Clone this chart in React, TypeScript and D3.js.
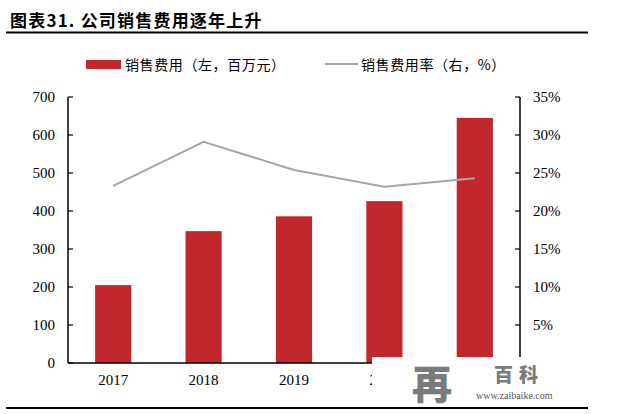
import React from "react";
import * as d3 from "d3";

const years = ["2017", "2018", "2019", "2020", "2021"];
const salesExpense = [205, 347, 386, 426, 645];
const expenseRatio = [0.233, 0.291, 0.254, 0.232, 0.243];
const leftTicks = [0, 100, 200, 300, 400, 500, 600, 700];
const rightTicks = [0, 0.05, 0.1, 0.15, 0.2, 0.25, 0.3, 0.35];
const title = "图表31. 公司销售费用逐年上升";
const legendBar = "销售费用（左，百万元）";
const legendLine = "销售费用率（右，%）";

const RED = "#C1272D";
const GREY = "#A6A6A6";
const SERIF = "'Liberation Serif', 'Times New Roman', serif";
const CJK = "'Noto Sans CJK SC', sans-serif";

export default function App() {
  const left = 68, right = 520, top = 97, bottom = 363;
  const x = d3.scaleBand<string>().domain(years).range([left, right]).paddingInner(0.6).paddingOuter(0.3);
  const yL = d3.scaleLinear().domain([0, 700]).range([bottom, top]);
  const yR = d3.scaleLinear().domain([0, 0.35]).range([bottom, top]);
  const line = d3
    .line<number>()
    .x((_, i) => (x(years[i]) as number) + x.bandwidth() / 2)
    .y((d) => yR(d));
  const pct = d3.format(".0%");

  return (
    <svg width={640} height={414} style={{ position: "absolute", left: 0, top: 0, background: "#fff" }}>
      <rect x={0} y={0} width={640} height={414} fill="#fff" />
      <text x={10} y={27} fontFamily={CJK} fontWeight={700} fontSize={17} letterSpacing={1.2} fill="#000">
        {title}
      </text>
      <line x1={6} x2={588} y1={32.5} y2={32.5} stroke="#000" strokeWidth={2} />

      {/* legend */}
      <rect x={86} y={60} width={35} height={9} fill={RED} />
      <text x={125} y={70} fontFamily={CJK} fontSize={14} letterSpacing={0.6} fill="#000">
        {legendBar}
      </text>
      <line x1={325} x2={358} y1={64} y2={64} stroke={GREY} strokeWidth={2} />
      <text x={361} y={70} fontFamily={CJK} fontSize={14} letterSpacing={0.6} fill="#000">
        {legendLine}
      </text>

      {/* bars */}
      {salesExpense.map((v, i) => (
        <rect key={years[i]} x={x(years[i])} y={yL(v)} width={x.bandwidth()} height={bottom - yL(v)} fill={RED} />
      ))}

      {/* line */}
      <path d={line(expenseRatio) || ""} fill="none" stroke={GREY} strokeWidth={2} />

      {/* left axis */}
      <line x1={left} x2={left} y1={top} y2={bottom} stroke="#000" strokeWidth={1.5} />
      {leftTicks.map((t) => (
        <g key={t}>
          <line x1={left} x2={left + 5} y1={yL(t)} y2={yL(t)} stroke="#000" strokeWidth={1.2} />
          <text x={55} y={yL(t)} dy="0.35em" textAnchor="end" fontFamily={SERIF} fontSize={15} fill="#000">
            {t}
          </text>
        </g>
      ))}

      {/* right axis */}
      <line x1={right} x2={right} y1={top} y2={bottom} stroke="#000" strokeWidth={1.5} />
      {rightTicks.map((t) => (
        <g key={t}>
          <line x1={right - 5} x2={right} y1={yR(t)} y2={yR(t)} stroke="#000" strokeWidth={1.2} />
          {t > 0 && (
            <text x={533} y={yR(t)} dy="0.35em" textAnchor="start" fontFamily={SERIF} fontSize={15} fill="#000">
              {pct(t)}
            </text>
          )}
        </g>
      ))}

      {/* x axis */}
      <line x1={left} x2={right} y1={bottom} y2={bottom} stroke="#000" strokeWidth={1.5} />
      {years.map((yv) => (
        <text key={yv} x={(x(yv) as number) + x.bandwidth() / 2} y={385} textAnchor="middle" fontFamily={SERIF} fontSize={15} fill="#000">
          {yv}
        </text>
      ))}

      {/* watermark */}
      <rect x={372} y={357} width={216} height={50} fill="#fff" />
      <text x={432} y={399} textAnchor="middle" fontFamily={CJK} fontWeight={900} fontSize={40} fill="#7a7a7a">
        再
      </text>
      <text x={494} y={382} fontFamily={CJK} fontWeight={900} fontSize={19} letterSpacing={6} fill="#7a7a7a">
        百科
      </text>
      <text x={476} y={399} fontFamily={SERIF} fontSize={10} fill="#555">
        www.zaibaike.com
      </text>

      <line x1={6} x2={588} y1={408} y2={408} stroke="#000" strokeWidth={2} />
    </svg>
  );
}
